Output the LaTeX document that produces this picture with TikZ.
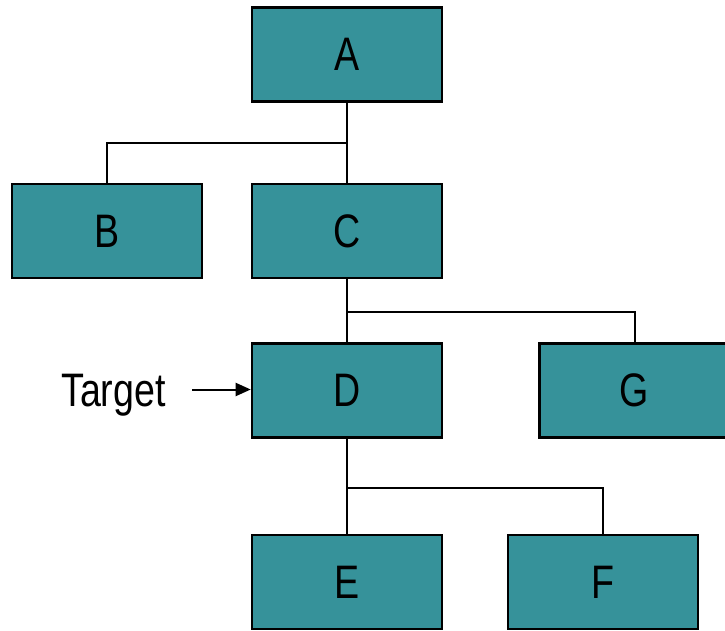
\documentclass[tikz,border=0pt]{standalone}
\usepackage{fontspec}
\setmainfont{Liberation Sans}[FakeStretch=0.8]
\usetikzlibrary{arrows.meta}
\definecolor{boxteal}{RGB}{54,146,154}
\tikzset{
  orgbox/.style={draw=black, line width=2.6pt, fill=boxteal, minimum width=190pt,
    minimum height=94pt, inner sep=0pt, font=\fontsize{47}{56}\selectfont},
  link/.style={draw=black, line width=2pt},
  lbl/.style={font=\fontsize{47}{56}\selectfont, inner sep=0pt}
}
\begin{document}
\begin{tikzpicture}[x=1pt,y=-1pt]
\useasboundingbox (0,0) rectangle (725,631);
\node[orgbox] (A) at (347,54.5) {A};
\node[orgbox] (B) at (107,231) {B};
\node[orgbox] (C) at (347,231) {C};
\node[orgbox] (D) at (347,390.5) {D};
\node[orgbox] (G) at (634.5,390.5) {G};
\node[orgbox] (E) at (347,582) {E};
\node[orgbox] (F) at (603,582) {F};
\node[lbl, anchor=base] (T) at (113.5,406.5) {Target};
\coordinate (ts) at (192,389.5);
\path[link] (A.south) -- (C.north);
\path[link] (A.south) -- ++(0,40) -| (B.north);
\path[link] (C.south) -- (D.north);
\path[link] (C.south) -- ++(0,33) -| (G.north);
\path[link] (D.south) -- (E.north);
\path[link] (D.south) -- ++(0,49) -| (F.north);
\draw[line width=2pt, -{Triangle[length=15pt,width=13pt]}] (ts) -- (ts -| D.west);
\end{tikzpicture}
\end{document}
